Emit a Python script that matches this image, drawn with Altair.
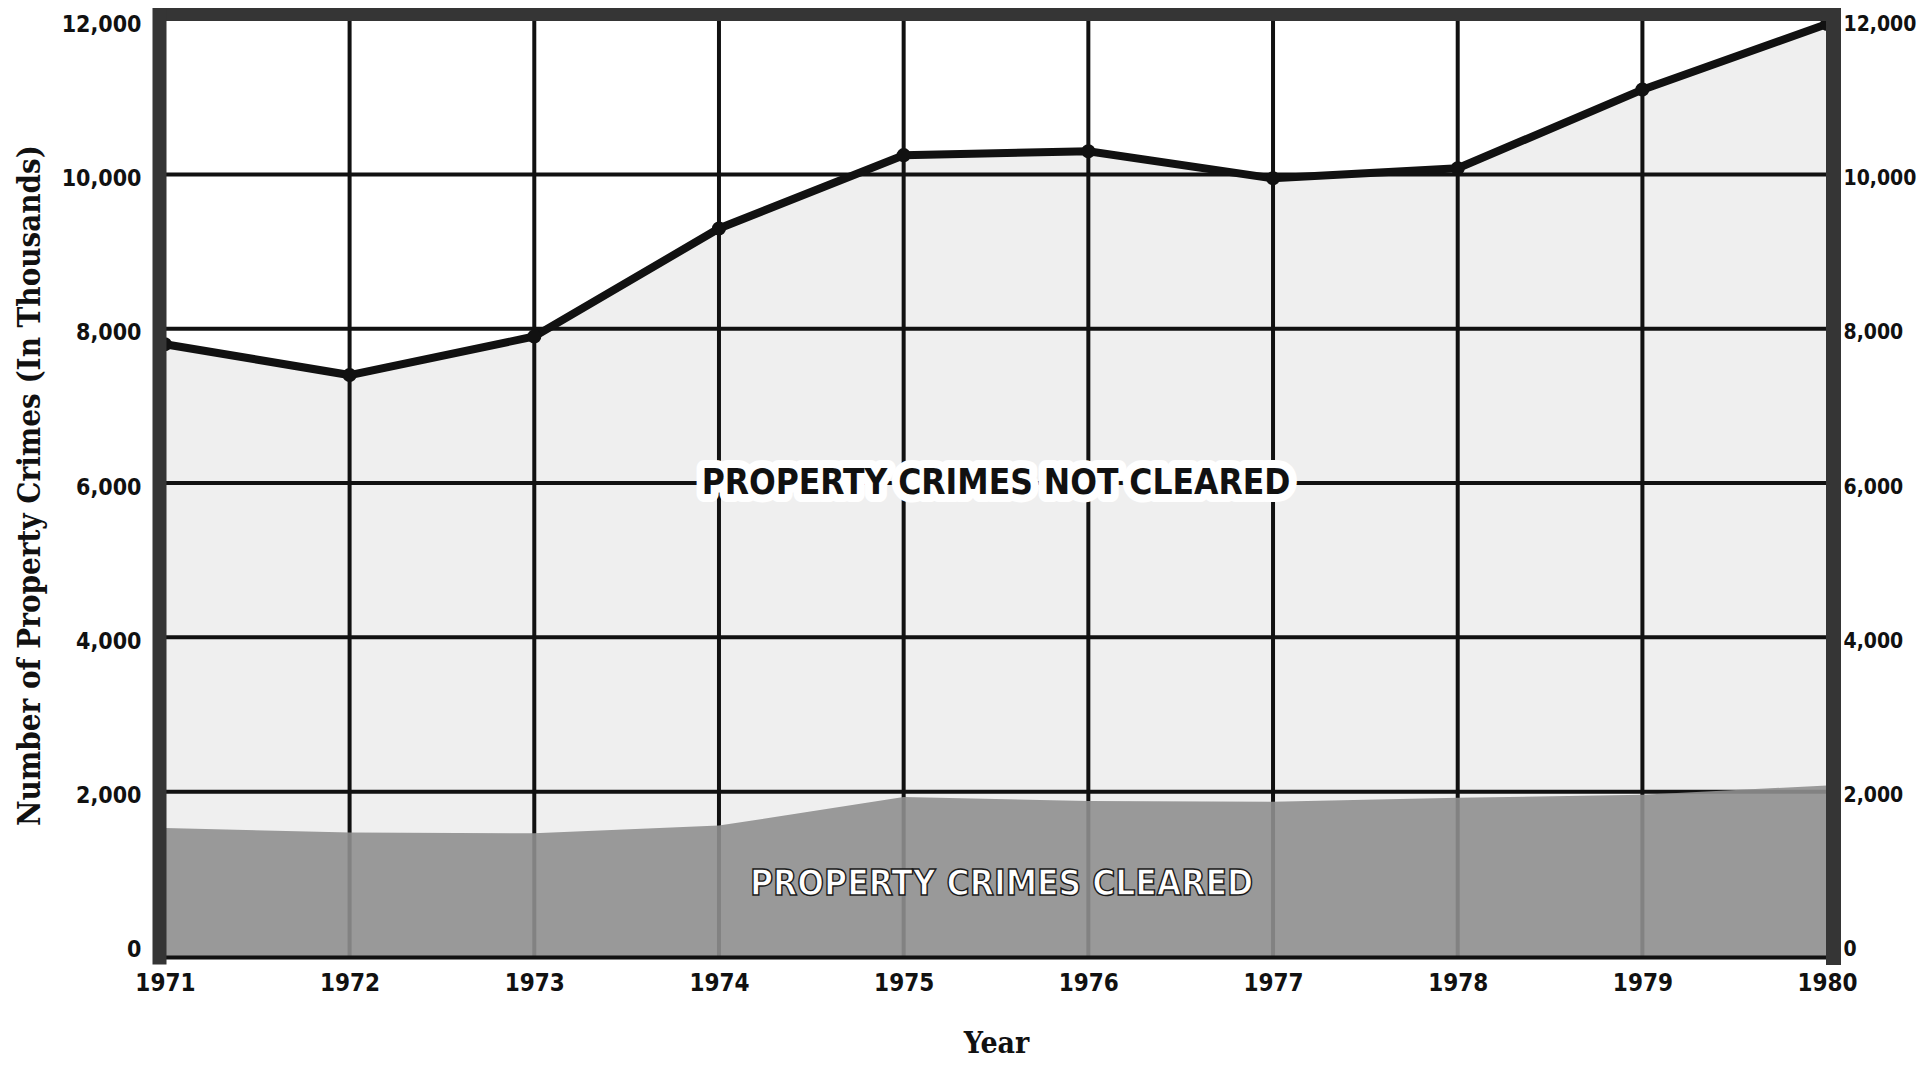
import altair as alt
import pandas as pd

# ---- data ----
years = [1971, 1972, 1973, 1974, 1975, 1976, 1977, 1978, 1979, 1980]
total_crimes = [7800, 7400, 7900, 9300, 10250, 10300, 9950, 10080, 11100, 11950]
cleared_crimes = [1530, 1470, 1460, 1560, 1930, 1880, 1870, 1920, 1960, 2080]
y_ticks = [0, 2000, 4000, 6000, 8000, 10000, 12000]
grid_years = [1972, 1973, 1974, 1975, 1976, 1977, 1978, 1979]
grid_values = [2000, 4000, 6000, 8000, 10000]
label_not_cleared = "PROPERTY CRIMES NOT CLEARED"
label_cleared = "PROPERTY CRIMES CLEARED"

X_DOMAIN = [1970.968, 1980.032]
Y_DOMAIN = [-143, 12080]
BASE = Y_DOMAIN[0]

SANS = "Liberation Sans Narrow, Arial Narrow, DejaVu Sans Condensed, sans-serif"
SERIF = "DejaVu Serif Condensed, DejaVu Serif, serif"
BORDER = "#353535"
INK = "#111111"

df = pd.DataFrame({"year": years, "total": total_crimes, "cleared": cleared_crimes})
df_gx = pd.DataFrame({"gy": grid_years})
df_gy = pd.DataFrame({"gv": grid_values})

xs = alt.Scale(domain=X_DOMAIN, nice=False, zero=False)
ys = alt.Scale(domain=Y_DOMAIN, nice=False, zero=False)

label_common = dict(
    labelFont=SANS, labelFontWeight="bold", labelColor=INK,
    ticks=False, grid=False, labelOverlap=False, labelFlush=False, zindex=1,
)

x_bottom = alt.Axis(
    orient="bottom", values=years, labelExpr="format(datum.value, 'd')", labelPadding=14,
    labelFontSize=24,
    domainColor=INK, domainWidth=4, title="Year", titleFont=SERIF,
    titleFontSize=30, titleFontWeight="bold", titleColor=INK,
    titleBaseline="alphabetic", titleY=95, **label_common,
)
y_left = alt.Axis(
    orient="left", values=y_ticks, labelExpr="format(datum.value, ',')", labelPadding=18,
    labelFontSize=23, labelOffset=4,
    domainColor=BORDER, domainWidth=14, domainCap="square",
    title="Number of Property Crimes (In Thousands)", titleFont=SERIF,
    titleFontSize=31, titleFontWeight="bold", titleColor=INK,
    titleX=-129, titleY=471, titleBaseline="middle", **label_common,
)
x_top = alt.Axis(
    orient="top", labels=False, ticks=False, grid=False, title=None,
    domainColor=BORDER, domainWidth=13, domainCap="square", zindex=1,
)
y_right = alt.Axis(
    orient="right", values=y_ticks, labelExpr="format(datum.value, ',')", labelPadding=10,
    labelFontSize=21, labelOffset=4,
    domainColor=BORDER, domainWidth=15, domainCap="square", title=None,
    **label_common,
)

base = alt.Chart(df)

light_area = base.mark_area(color="#efefef").encode(
    x=alt.X("year:Q", scale=xs, axis=x_bottom),
    y=alt.Y("total:Q", scale=ys, axis=y_left),
    y2=alt.datum(BASE),
)

vgrid = alt.Chart(df_gx).mark_rule(color=INK, strokeWidth=4).encode(
    x=alt.X("gy:Q", scale=xs, axis=None),
)
hgrid = alt.Chart(df_gy).mark_rule(color=INK, strokeWidth=4).encode(
    y=alt.Y("gv:Q", scale=ys, axis=None),
)

cleared_area = base.mark_area(color="#8f8f8f", opacity=0.9).encode(
    x=alt.X("year:Q", scale=xs, axis=None),
    y=alt.Y("cleared:Q", scale=ys, axis=None),
    y2=alt.datum(BASE),
)

line = base.mark_line(color=INK, strokeWidth=8).encode(
    x=alt.X("year:Q", scale=xs, axis=x_top),
    y=alt.Y("total:Q", scale=ys, axis=y_right),
)
points = base.mark_point(filled=True, color=INK, size=200, opacity=1).encode(
    x=alt.X("year:Q", scale=xs, axis=None),
    y=alt.Y("total:Q", scale=ys, axis=None),
)

txt_style = dict(font=SANS, fontSize=35, fontWeight="bold", align="center", baseline="middle")

def pos(xv, yv):
    return dict(
        x=alt.datum(xv, scale=xs, axis=None),
        y=alt.datum(yv, scale=ys, axis=None),
    )

knock = alt.Chart(pd.DataFrame({"t": [label_not_cleared]})).mark_text(
    color="white", stroke="white", strokeWidth=16, strokeJoin="round", **txt_style
).encode(text="t:N", **pos(1975.5, 6000))

not_cleared_txt = alt.Chart(pd.DataFrame({"t": [label_not_cleared]})).mark_text(
    color=INK, **txt_style
).encode(text="t:N", **pos(1975.5, 6000))

cleared_txt = alt.Chart(pd.DataFrame({"t": [label_cleared]})).mark_text(
    color="white", stroke="#1a1a1a", strokeWidth=1.4, **txt_style
).encode(text="t:N", **pos(1975.53, 800))

chart = alt.layer(
    light_area, vgrid, hgrid, cleared_area, line, points, knock, not_cleared_txt, cleared_txt
).resolve_axis(
    x="independent", y="independent"
).properties(
    width=1674, height=943,
    padding={"left": 151, "top": 6, "right": 86, "bottom": 101},
    autosize=alt.AutoSizeParams(type="none"),
    background="white",
).configure_view(stroke=None)

chart.save("out.html", embed_options={"renderer": "svg", "actions": False})
